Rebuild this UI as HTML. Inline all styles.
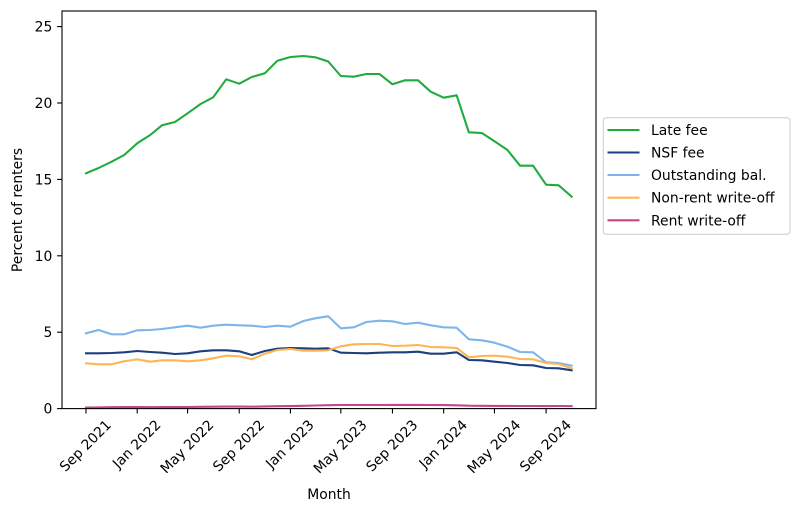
<!DOCTYPE html>
<html>
<head>
<meta charset="utf-8">
<style>
  html,body{margin:0;padding:0;background:#fff;}
  svg{display:block;}
  text{font-family:"DejaVu Sans","Liberation Sans",sans-serif;font-size:13.9px;fill:#000;}
</style>
</head>
<body>
<svg width="800" height="513" viewBox="0 0 800 513" xmlns="http://www.w3.org/2000/svg">
  <rect x="0" y="0" width="800" height="513" fill="#fff"/>

  <!-- series -->
  <g fill="none" stroke-width="2.08" stroke-linejoin="round" stroke-linecap="square">
    <polyline stroke="#1fab3d" points="86,173.3 98.59,168 111.61,161.7 124.2,155 137.21,143.3 150.23,135 161.98,125.3 175,122 187.59,113.3 200.6,104 213.2,97.3 226.21,79.3 239.22,83.7 251.82,77 264.83,73.3 277.42,60.7 290.44,57 303.45,56 315.21,57.3 328.22,61.5 340.81,76 353.83,76.7 366.42,74 379.43,74 392.45,84.3 405.04,80.3 418.05,80.3 430.65,91.7 443.66,97.7 456.67,95.3 468.85,132.3 481.86,133 494.46,141.3 507.47,150 520.06,165.7 533.08,165.7 546.09,184.7 558.69,185.3 571.7,196.7"/>
    <polyline stroke="#1d3f7e" points="86,353.3 98.59,353.3 111.61,353 124.2,352.3 137.21,351 150.23,352 161.98,352.7 175,354 187.59,353.3 200.6,351.3 213.2,350.3 226.21,350.3 239.22,351.3 251.82,355 264.83,351 277.42,348.7 290.44,348 303.45,348.3 315.21,348.7 328.22,348.3 340.81,352.7 353.83,353 366.42,353.3 379.43,352.7 392.45,352.3 405.04,352.3 418.05,351.7 430.65,353.7 443.66,353.7 456.67,352.3 468.85,360 481.86,360.3 494.46,361.7 507.47,363 520.06,365 533.08,365.3 546.09,368 558.69,368.3 571.7,370.3"/>
    <polyline stroke="#7db5ea" points="86,333.3 98.59,330 111.61,334.3 124.2,334.3 137.21,330.3 150.23,330 161.98,329 175,327.3 187.59,325.7 200.6,327.7 213.2,325.7 226.21,324.7 239.22,325.3 251.82,325.7 264.83,327 277.42,325.7 290.44,326.7 303.45,321 315.21,318.3 328.22,316.3 340.81,328.3 353.83,327.3 366.42,322 379.43,320.7 392.45,321.3 405.04,324 418.05,322.7 430.65,325.3 443.66,327.3 456.67,327.7 468.85,339.3 481.86,340.3 494.46,342.7 507.47,346.7 520.06,352 533.08,352.3 546.09,362.3 558.69,363 571.7,365.7"/>
    <polyline stroke="#ffb552" points="86,363.3 98.59,364.3 111.61,364.3 124.2,361.3 137.21,359.3 150.23,361.7 161.98,360.3 175,360.3 187.59,361.3 200.6,360.3 213.2,358.3 226.21,355.7 239.22,356.3 251.82,359.3 264.83,353.7 277.42,350 290.44,349 303.45,350.7 315.21,350.7 328.22,350.3 340.81,346.3 353.83,344.3 366.42,344 379.43,344 392.45,346 405.04,345.7 418.05,345 430.65,347 443.66,347.3 456.67,348 468.85,357.3 481.86,356 494.46,355.7 507.47,356.7 520.06,359 533.08,359.3 546.09,363 558.69,364 571.7,368.3"/>
    <polyline stroke="#c8458c" points="86,407.6 98.59,407.4 111.61,407.2 124.2,407.1 137.21,407.1 150.23,407.2 161.98,407.1 175,407 187.59,407 200.6,406.8 213.2,406.7 226.21,406.6 239.22,406.6 251.82,406.7 264.83,406.4 277.42,406.2 290.44,406.1 303.45,405.8 315.21,405.5 328.22,405.2 340.81,405 353.83,405 366.42,405 379.43,405 392.45,404.9 405.04,404.9 418.05,404.9 430.65,405 443.66,405.1 456.67,405.3 468.85,405.7 481.86,405.8 494.46,405.9 507.47,405.9 520.06,406 533.08,406 546.09,406.1 558.69,406 571.7,406.1"/>
  </g>

  <!-- axes frame -->
  <rect x="62" y="11" width="534" height="397.6" fill="none" stroke="#000" stroke-width="1.1"/>

  <!-- y ticks -->
  <g stroke="#000" stroke-width="1.1">
    <line x1="57.1" y1="408.6" x2="62" y2="408.6"/>
    <line x1="57.1" y1="332.2" x2="62" y2="332.2"/>
    <line x1="57.1" y1="255.8" x2="62" y2="255.8"/>
    <line x1="57.1" y1="179.4" x2="62" y2="179.4"/>
    <line x1="57.1" y1="103" x2="62" y2="103"/>
    <line x1="57.1" y1="26.6" x2="62" y2="26.6"/>
  </g>
  <g text-anchor="end">
    <text x="52.3" y="413.6">0</text>
    <text x="52.3" y="337.2">5</text>
    <text x="52.3" y="260.8">10</text>
    <text x="52.3" y="184.4">15</text>
    <text x="52.3" y="108">20</text>
    <text x="52.3" y="31.6">25</text>
  </g>

  <!-- x ticks -->
  <g stroke="#000" stroke-width="1.1">
    <line x1="86" y1="408.6" x2="86" y2="413.5"/>
    <line x1="137.21" y1="408.6" x2="137.21" y2="413.5"/>
    <line x1="187.59" y1="408.6" x2="187.59" y2="413.5"/>
    <line x1="239.22" y1="408.6" x2="239.22" y2="413.5"/>
    <line x1="290.44" y1="408.6" x2="290.44" y2="413.5"/>
    <line x1="340.81" y1="408.6" x2="340.81" y2="413.5"/>
    <line x1="392.45" y1="408.6" x2="392.45" y2="413.5"/>
    <line x1="443.66" y1="408.6" x2="443.66" y2="413.5"/>
    <line x1="494.46" y1="408.6" x2="494.46" y2="413.5"/>
    <line x1="546.09" y1="408.6" x2="546.09" y2="413.5"/>
  </g>
  <g text-anchor="end">
    <text x="112.05" y="425.8" transform="rotate(-45 112.05 425.8)">Sep 2021</text>
    <text x="161.6" y="425.8" transform="rotate(-45 161.6 425.8)">Jan 2022</text>
    <text x="214.5" y="425.8" transform="rotate(-45 214.5 425.8)">May 2022</text>
    <text x="265.3" y="425.8" transform="rotate(-45 265.3 425.8)">Sep 2022</text>
    <text x="314.8" y="425.8" transform="rotate(-45 314.8 425.8)">Jan 2023</text>
    <text x="367.7" y="425.8" transform="rotate(-45 367.7 425.8)">May 2023</text>
    <text x="418.5" y="425.8" transform="rotate(-45 418.5 425.8)">Sep 2023</text>
    <text x="468.1" y="425.8" transform="rotate(-45 468.1 425.8)">Jan 2024</text>
    <text x="521.4" y="425.8" transform="rotate(-45 521.4 425.8)">May 2024</text>
    <text x="572.1" y="425.8" transform="rotate(-45 572.1 425.8)">Sep 2024</text>
  </g>

  <!-- axis labels -->
  <text x="329" y="499" text-anchor="middle">Month</text>
  <text x="22" y="210" text-anchor="middle" transform="rotate(-90 22 210)">Percent of renters</text>

  <!-- legend -->
  <rect x="603.3" y="117.7" width="186.7" height="116.6" rx="2.8" ry="2.8" fill="#fff" fill-opacity="0.8" stroke="#cccccc" stroke-width="1"/>
  <g stroke-width="2.08" stroke-linecap="butt">
    <line x1="607.5" y1="130" x2="639.5" y2="130" stroke="#1fab3d"/>
    <line x1="607.5" y1="152.5" x2="639.5" y2="152.5" stroke="#1d3f7e"/>
    <line x1="607.5" y1="175" x2="639.5" y2="175" stroke="#7db5ea"/>
    <line x1="607.5" y1="197.7" x2="639.5" y2="197.7" stroke="#ffb552"/>
    <line x1="607.5" y1="220.3" x2="639.5" y2="220.3" stroke="#c8458c"/>
  </g>
  <text x="651" y="135">Late fee</text>
  <text x="651" y="157.5">NSF fee</text>
  <text x="651" y="180">Outstanding bal.</text>
  <text x="651" y="202.7">Non-rent write-off</text>
  <text x="651" y="225.3">Rent write-off</text>
</svg>
</body>
</html>
